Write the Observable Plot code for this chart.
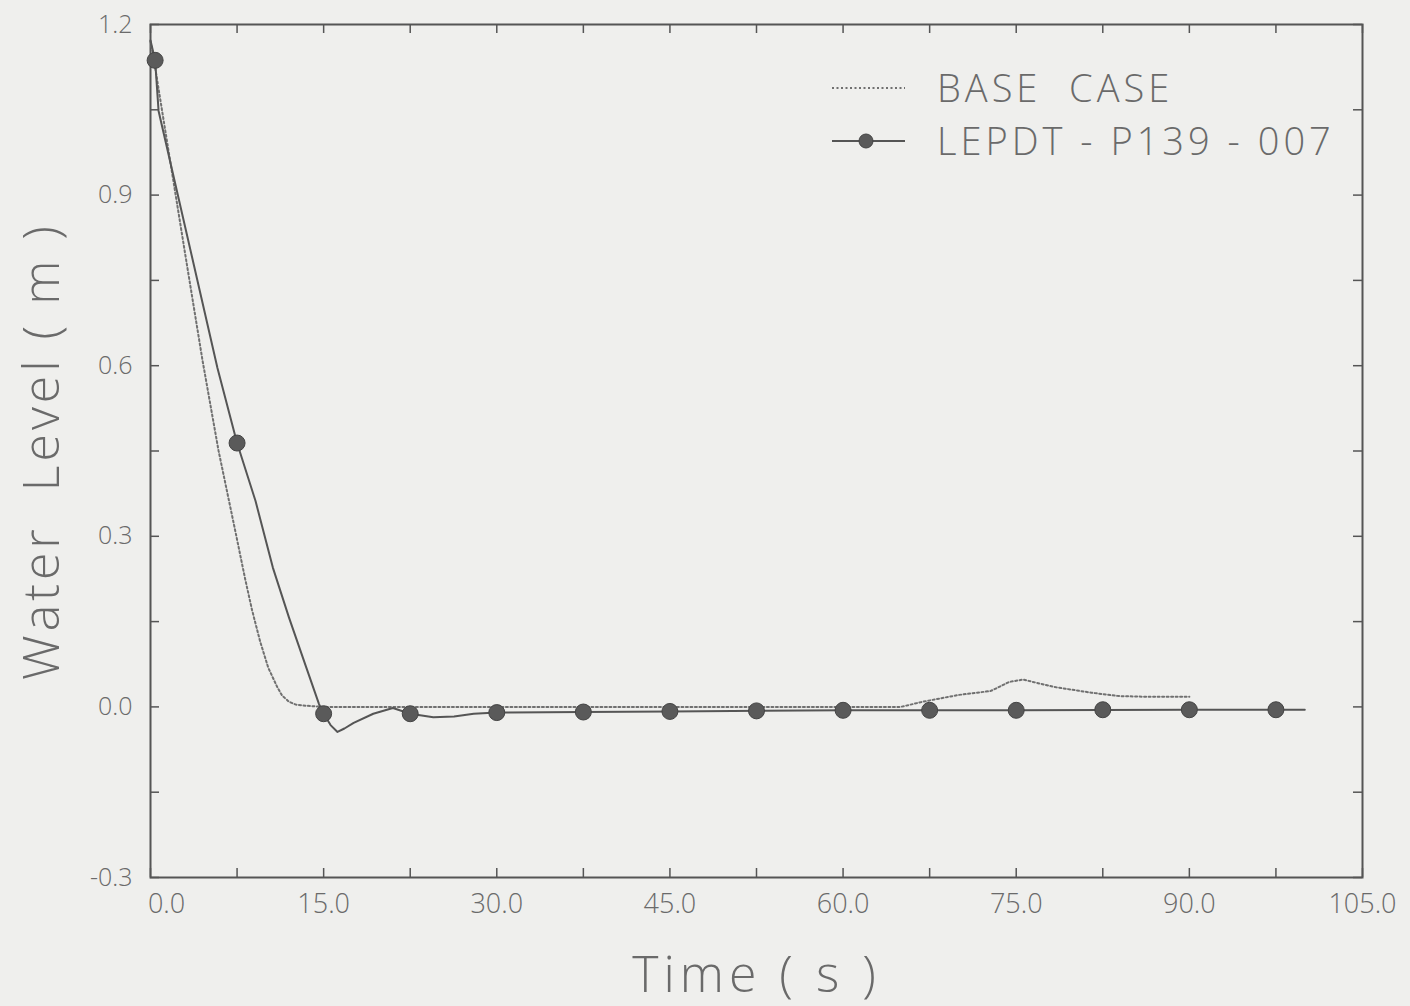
<!DOCTYPE html>
<html>
<head>
<meta charset="utf-8">
<script src="https://cdn.jsdelivr.net/npm/d3@7"></script>
<script src="https://cdn.jsdelivr.net/npm/@observablehq/plot@0.6"></script>
<style>
  html, body { margin: 0; padding: 0; background: #efefed; overflow: hidden; }
  #wrap { position: relative; width: 1410px; height: 1006px; }
  #legend { position: absolute; left: 0; top: 0; pointer-events: none; }
</style>
</head>
<body>
<div id="wrap"><div id="chart"></div><svg id="legend" width="1410" height="1006"></svg></div>
<script>
// Water level history, base case (dotted)
const baseTime  = [0, 0.2, 1.6, 3.0, 4.5, 5.9, 7.4, 8.2, 8.8, 9.5, 10.2, 11.0, 11.4, 12.0, 12.6, 13.5, 15, 20, 30, 45, 60, 65, 66.9, 70, 72.8, 74.4, 75.6, 78.3, 81.5, 83.9, 86, 90];
const baseLevel = [1.17, 1.15, 0.973, 0.797, 0.61, 0.45, 0.304, 0.225, 0.17, 0.115, 0.069, 0.034, 0.02, 0.009, 0.004, 0.002, 0.0, 0.0, 0.0, 0.0, 0.0, 0.0, 0.009, 0.021, 0.028, 0.044, 0.048, 0.035, 0.025, 0.019, 0.018, 0.018];

// Water level history, LEPDT-P139-007 (solid)
const lepdtTime  = [0, 0.4, 0.7, 5.8, 7.5, 9.1, 10.6, 12, 13.5, 14.6, 15, 15.6, 16.2, 16.8, 17.6, 19.3, 21, 22.5, 24.5, 26.3, 28, 30, 37.5, 45, 60, 75, 90, 100];
const lepdtLevel = [1.172, 1.137, 1.048, 0.596, 0.464, 0.362, 0.245, 0.157, 0.069, 0.005, -0.012, -0.032, -0.044, -0.038, -0.028, -0.012, -0.002, -0.012, -0.018, -0.017, -0.012, -0.01, -0.009, -0.008, -0.006, -0.006, -0.005, -0.005];

// Symbol positions on the LEPDT curve
const markTime  = [0.4, 7.5, 15, 22.5, 30, 37.5, 45, 52.5, 60, 67.5, 75, 82.5, 90, 97.5];
const markLevel = [1.137, 0.464, -0.012, -0.012, -0.01, -0.009, -0.008, -0.007, -0.006, -0.006, -0.006, -0.005, -0.005, -0.005];

// Axis ticks and labels
const xTicks = [0, 7.5, 15, 22.5, 30, 37.5, 45, 52.5, 60, 67.5, 75, 82.5, 90, 97.5, 105];
const xLabels = [0, 15, 30, 45, 60, 75, 90, 105];
const yTicks = [-0.3, -0.15, 0, 0.15, 0.3, 0.45, 0.6, 0.75, 0.9, 1.05, 1.2];
const yLabels = [-0.3, 0, 0.3, 0.6, 0.9, 1.2];

const series = ["BASE  CASE", "LEPDT - P139 - 007"];
const xTitle = "Time ( s )";
const yTitle = "Water  Level ( m )";

const base = baseTime.map((t, i) => ({t, v: baseLevel[i]}));
const lepdt = lepdtTime.map((t, i) => ({t, v: lepdtLevel[i]}));
const marks = markTime.map((t, i) => ({t, v: markLevel[i]}));

const W = 1410, H = 1006, mL = 150, mR = 48, mT = 24, mB = 129;
const innerW = W - mL - mR, innerH = H - mT - mB;
const tickLen = 9;
const ink = "#555";
const textInk = "#6a6a6a";
const font = "'Open Sans', 'DejaVu Sans', sans-serif";
const fmt = d => (d < 0 ? "-" : "") + Math.abs(d).toFixed(1);

const chart = Plot.plot({
  width: W, height: H,
  marginLeft: mL, marginRight: mR, marginTop: mT, marginBottom: mB,
  style: {background: "transparent", fontFamily: font, color: textInk},
  x: {domain: [0, 105]},
  y: {domain: [-0.3, 1.2]},
  marks: [
    Plot.frame({stroke: ink, strokeWidth: 2}),
    // inward ticks on all four sides
    Plot.ruleX(xTicks, {x: d => d, stroke: ink, strokeWidth: 1.5, insetTop: innerH - tickLen}),
    Plot.ruleX(xTicks, {x: d => d, stroke: ink, strokeWidth: 1.5, insetBottom: innerH - tickLen}),
    Plot.ruleY(yTicks, {y: d => d, stroke: ink, strokeWidth: 1.5, insetRight: innerW - tickLen}),
    Plot.ruleY(yTicks, {y: d => d, stroke: ink, strokeWidth: 1.5, insetLeft: innerW - tickLen}),
    Plot.axisX(xLabels, {tickSize: 0, tickPadding: 16, fontSize: 27, fontWeight: 300, tickFormat: fmt, label: null}),
    Plot.axisY(yLabels, {tickSize: 0, tickPadding: 18, fontSize: 25, fontWeight: 300, tickFormat: fmt, label: null}),
    Plot.text([xTitle], {frameAnchor: "bottom", dy: 114, fontSize: 50, fontWeight: 300, fill: textInk}),
    Plot.text([yTitle], {frameAnchor: "left", textAnchor: "middle", dx: -108, dy: 0, rotate: -90, fontSize: 50, fontWeight: 300, fill: textInk}),
    Plot.line(base, {x: "t", y: "v", stroke: "#707070", strokeWidth: 2, strokeDasharray: "2,2.5"}),
    Plot.line(lepdt, {x: "t", y: "v", stroke: ink, strokeWidth: 2}),
    Plot.dot(marks, {x: "t", y: "v", r: 8, fill: "#5a5a5a", stroke: "#444", strokeWidth: 1})
  ]
});
document.getElementById("chart").append(chart);

// wider letter spacing on the axis titles
d3.select(chart).selectAll("text")
  .filter(function() { return this.textContent === xTitle; })
  .style("letter-spacing", "5px");
d3.select(chart).selectAll("text")
  .filter(function() { return this.textContent === yTitle; })
  .style("white-space", "pre").style("letter-spacing", "4px");
// the origin label on the time axis sits just right of the corner
d3.select(chart).selectAll('g[aria-label="x-axis tick label"] text')
  .filter(function() { return this.textContent === fmt(xLabels[0]); })
  .attr("dx", 16);

// legend
const lg = d3.select("#legend");
const rows = [
  {y: 88, dash: "2,2.5", stroke: "#707070", dot: false},
  {y: 141, dash: null, stroke: ink, dot: true}
];
rows.forEach((r, i) => {
  lg.append("line").attr("x1", 832).attr("x2", 905).attr("y1", r.y).attr("y2", r.y)
    .attr("stroke", r.stroke).attr("stroke-width", 2).attr("stroke-dasharray", r.dash);
  if (r.dot) lg.append("circle").attr("cx", 866).attr("cy", r.y).attr("r", 7)
    .attr("fill", "#5a5a5a").attr("stroke", "#444");
  lg.append("text").attr("x", 937).attr("y", r.y + 14)
    .attr("font-family", font).attr("font-size", 38).attr("font-weight", 300)
    .attr("fill", textInk).style("white-space", "pre").style("letter-spacing", "4px").text(series[i]);
});
</script>
</body>
</html>
